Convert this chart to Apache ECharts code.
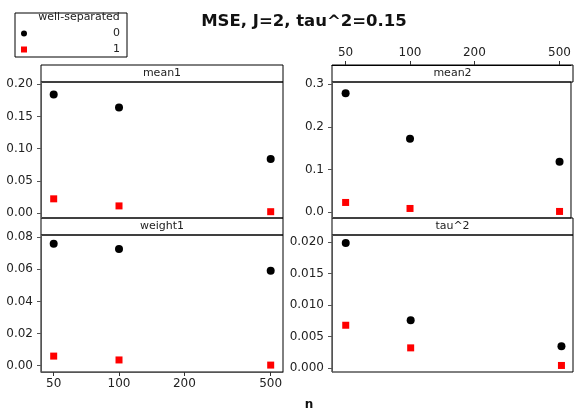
<!DOCTYPE html>
<html lang="en">
<head>
    <meta charset="UTF-8">
    <title>MSE, J=2, tau^2=0.15</title>
    <script src="https://cdn.jsdelivr.net/npm/echarts@6/dist/echarts.min.js"></script>
</head>
<body style="margin:0">
    <div id="main" style="width: 574px; height: 411px;"></div>

    <script>
        // #region data
        var nValues = [50, 100, 500]
        var xTicks = [50, 100, 200, 500]

        var mean1Sep0 = [0.184, 0.164, 0.084]
        var mean1Sep1 = [0.022, 0.011, 0.002]
        var mean2Sep0 = [0.279, 0.172, 0.118]
        var mean2Sep1 = [0.0225, 0.0084, 0.0014]
        var weight1Sep0 = [0.076, 0.0727, 0.0592]
        var weight1Sep1 = [0.006, 0.0036, 0.0004]
        var tau2Sep0 = [0.0199, 0.0076, 0.00346]
        var tau2Sep1 = [0.0068, 0.0032, 0.0004]

        var mean1Ticks = [0, 0.05, 0.10, 0.15, 0.20]
        var mean2Ticks = [0, 0.1, 0.2, 0.3]
        var weight1Ticks = [0, 0.02, 0.04, 0.06, 0.08]
        var tau2Ticks = [0, 0.005, 0.010, 0.015, 0.020]
        // #endregion

        var font = "DejaVu Sans"
        var logTicks = xTicks.map(v => Math.log10(v))

        function pts(arr) {
            return nValues.map((n, i) => [Math.log10(n), arr[i]])
        }

        // panels: grid box + strip label
        var panels = [
            { name: "mean1", left: 41, top: 82, width: 242, height: 136, xmin: 1.6405, xmax: 2.7557,
              ymin: -0.0078, ymax: 0.2036, ticks: mean1Ticks, dec: 2, xShow: false, s0: mean1Sep0, s1: mean1Sep1 },
            { name: "weight1", left: 41, top: 235, width: 242, height: 137, xmin: 1.6405, xmax: 2.7557,
              ymin: -0.0039, ymax: 0.0814, ticks: weight1Ticks, dec: 2, xShow: "bottom", s0: weight1Sep0, s1: weight1Sep1 },
            { name: "mean2", left: 332, top: 82, width: 241, height: 136, xmin: 1.6353, xmax: 2.7525,
              ymin: -0.014, ymax: 0.3054, ticks: mean2Ticks, dec: 1, xShow: "top", s0: mean2Sep0, s1: mean2Sep1 },
            { name: "tau^2", left: 332, top: 235, width: 241, height: 137, xmin: 1.6353, xmax: 2.7525,
              ymin: -0.00064, ymax: 0.02116, ticks: tau2Ticks, dec: 3, xShow: false, s0: tau2Sep0, s1: tau2Sep1 }
        ]

        var grids = [], xAxes = [], yAxes = [], series = [], graphics = []
        var stripH = 17

        panels.forEach((p, i) => {
            // strip label box drawn first so the top axis sits over it
            graphics.push({
                type: "rect", z: -1, shape: { x: p.left, y: p.top - stripH, width: p.width, height: stripH },
                style: { fill: "#fff", stroke: "#000", lineWidth: 1 }
            })
            graphics.push({
                type: "text", x: p.left + p.width / 2, y: p.top - stripH / 2,
                style: { text: p.name, fontFamily: font, fontSize: 11, fill: "#222", align: "center", verticalAlign: "middle" }
            })
            grids.push({
                left: p.left, top: p.top, width: p.width, height: p.height,
                show: true, borderColor: "#000", borderWidth: 1
            })
            xAxes.push({
                type: "value", gridIndex: i, min: p.xmin, max: p.xmax,
                position: p.xShow === "top" ? "top" : "bottom",
                offset: p.xShow === "top" ? stripH : 0,
                splitLine: { show: false },
                axisLine: { show: !!p.xShow, onZero: false, lineStyle: { color: p.xShow === "top" ? "#000" : "#555" } },
                axisTick: { show: !!p.xShow, length: 4, customValues: logTicks, lineStyle: { color: "#333" } },
                axisLabel: {
                    show: !!p.xShow, customValues: logTicks, margin: 6,
                    fontFamily: font, fontSize: 12, color: "#222",
                    formatter: v => String(Math.round(Math.pow(10, v)))
                }
            })
            yAxes.push({
                type: "value", gridIndex: i, min: p.ymin, max: p.ymax,
                splitLine: { show: false },
                axisLine: { show: true, onZero: false, lineStyle: { color: "#555" } },
                axisTick: { show: true, length: 4, customValues: p.ticks, lineStyle: { color: "#555" } },
                axisLabel: {
                    customValues: p.ticks, margin: 8,
                    fontFamily: font, fontSize: 12, color: "#222",
                    formatter: v => v.toFixed(p.dec)
                }
            })
            series.push({
                name: "0", type: "scatter", xAxisIndex: i, yAxisIndex: i,
                symbol: "circle", symbolSize: 8, itemStyle: { color: "#000", opacity: 1 },
                data: pts(p.s0)
            })
            series.push({
                name: "1", type: "scatter", xAxisIndex: i, yAxisIndex: i,
                symbol: "rect", symbolSize: 7, itemStyle: { color: "#f00", opacity: 1 },
                data: pts(p.s1)
            })
        })

        // legend box and title
        graphics.push({
            type: "rect", shape: { x: 15, y: 13, width: 112, height: 44 },
            style: { fill: "none", stroke: "#000", lineWidth: 1 }
        })
        graphics.push({
            type: "text", x: 79, y: 17,
            style: { text: "well-separated", fontFamily: font, fontSize: 11, fill: "#222", align: "center", verticalAlign: "middle" }
        })
        graphics.push({
            type: "text", x: 304, y: 22,
            style: { text: "MSE, J=2, tau^2=0.15", fontFamily: font, fontSize: 16.5, fontWeight: "bold", fill: "#111", align: "center", verticalAlign: "middle" }
        })
        graphics.push({
            type: "text", x: 309, y: 405,
            style: { text: "n", fontFamily: font, fontSize: 12, fontWeight: "bold", fill: "#111", align: "center", verticalAlign: "middle" }
        })

        var chart = echarts.init(document.getElementById("main"))
        chart.setOption({
            animation: false,
            legend: {
                data: ["0", "1"], orient: "vertical", left: 21, top: 28,
                itemWidth: 6, itemHeight: 6, itemGap: 5, padding: 0,
                formatter: "{a|{name}}",
                textStyle: {
                    fontFamily: font, fontSize: 11, color: "#222",
                    rich: { a: { width: 88, height: 12, align: "right", fontFamily: font, fontSize: 11 } }
                }
            },
            grid: grids,
            xAxis: xAxes,
            yAxis: yAxes,
            series: series,
            graphic: graphics
        })
    </script>
</body>
</html>
